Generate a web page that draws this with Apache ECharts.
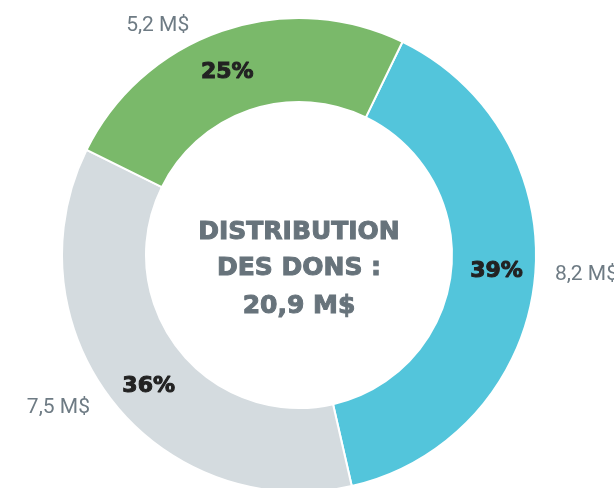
<!DOCTYPE html>
<html>
<head>
<meta charset="utf-8">
<script src="https://cdn.jsdelivr.net/npm/echarts@6/dist/echarts.min.js"></script>
<style>
html,body{margin:0;padding:0;background:#fff;}
#chart{width:614px;height:488px;}
</style>
</head>
<body>
<div id="chart"></div>
<script>
// ---- data ----
const categories = ['Segment A', 'Segment B', 'Segment C'];
const values = [8.2, 7.5, 5.2];           // M$
const titleLines = ['DISTRIBUTION', 'DES DONS :'];
const unit = 'M$';

// ---- styles / layout ----
const colors = ['#53c5db', '#d4dbdf', '#7ab96a'];
const center = [299, 255];
const startAngle = 64.1;
const labelRotate = 2.35;
// per-item outer label line lengths (hidden lines, used only for label placement)
const outerLabelLines = [
  { length: 6.5, length2: 25 },
  { length: 10.6, length2: 29 },
  { length: 28.9, length2: 14.6 }
];

const fmt = v => v.toFixed(1).replace('.', ',') + ' ' + unit;
const total = values.reduce((a, b) => a + b, 0);

const chart = echarts.init(document.getElementById('chart'), null, { renderer: 'canvas' });

const baseData = categories.map((c, i) => ({ name: c, value: values[i] }));

const heavy = (color, size) => ({
  fontFamily: 'DejaVu Sans',
  fontWeight: 'bold',
  fontSize: size,
  color: color,
  textBorderColor: color,
  textBorderWidth: 1
});

chart.setOption({
  backgroundColor: '#ffffff',
  animation: false,
  title: {
    text: titleLines.join('\n'),
    subtext: fmt(total),
    left: center[0],
    top: 214,
    textAlign: 'center',
    padding: 0,
    itemGap: 2,
    textStyle: Object.assign(heavy('#67737b', 25), { lineHeight: 36 }),
    subtextStyle: Object.assign(heavy('#67737b', 25), { lineHeight: 36 })
  },
  series: [
    {
      type: 'pie',
      name: 'donut',
      center: center,
      radius: [153, 237],
      startAngle: startAngle,
      clockwise: true,
      silent: true,
      avoidLabelOverlap: false,
      label: { show: false },
      labelLine: { show: false },
      itemStyle: { borderColor: '#ffffff', borderWidth: 2 },
      data: baseData.map((d, i) => ({ ...d, itemStyle: { color: colors[i] } }))
    },
    {
      type: 'pie',
      name: 'percent',
      center: center,
      radius: [154, 236],
      startAngle: startAngle + labelRotate,
      silent: true,
      avoidLabelOverlap: false,
      itemStyle: { color: 'rgba(0,0,0,0)' },
      label: Object.assign({
        show: true,
        position: 'inside',
        formatter: p => Math.round(p.percent) + '%',
        offset: [0, 2]
      }, heavy('#222222', 22)),
      labelLine: { show: false },
      data: baseData
    },
    {
      type: 'pie',
      name: 'values',
      center: center,
      radius: [0, 220],
      startAngle: startAngle + labelRotate,
      silent: true,
      avoidLabelOverlap: false,
      itemStyle: { color: 'rgba(0,0,0,0)' },
      label: {
        show: true,
        position: 'outside',
        formatter: p => fmt(p.value),
        fontFamily: 'Roboto',
        fontSize: 21,
        color: '#6e7b84',
        overflow: 'none',
        distanceToLabelLine: 5,
        offset: [0, 3]
      },
      data: baseData.map((d, i) => ({
        ...d,
        labelLine: { show: false, length: outerLabelLines[i].length, length2: outerLabelLines[i].length2 }
      }))
    }
  ]
});
</script>
</body>
</html>
